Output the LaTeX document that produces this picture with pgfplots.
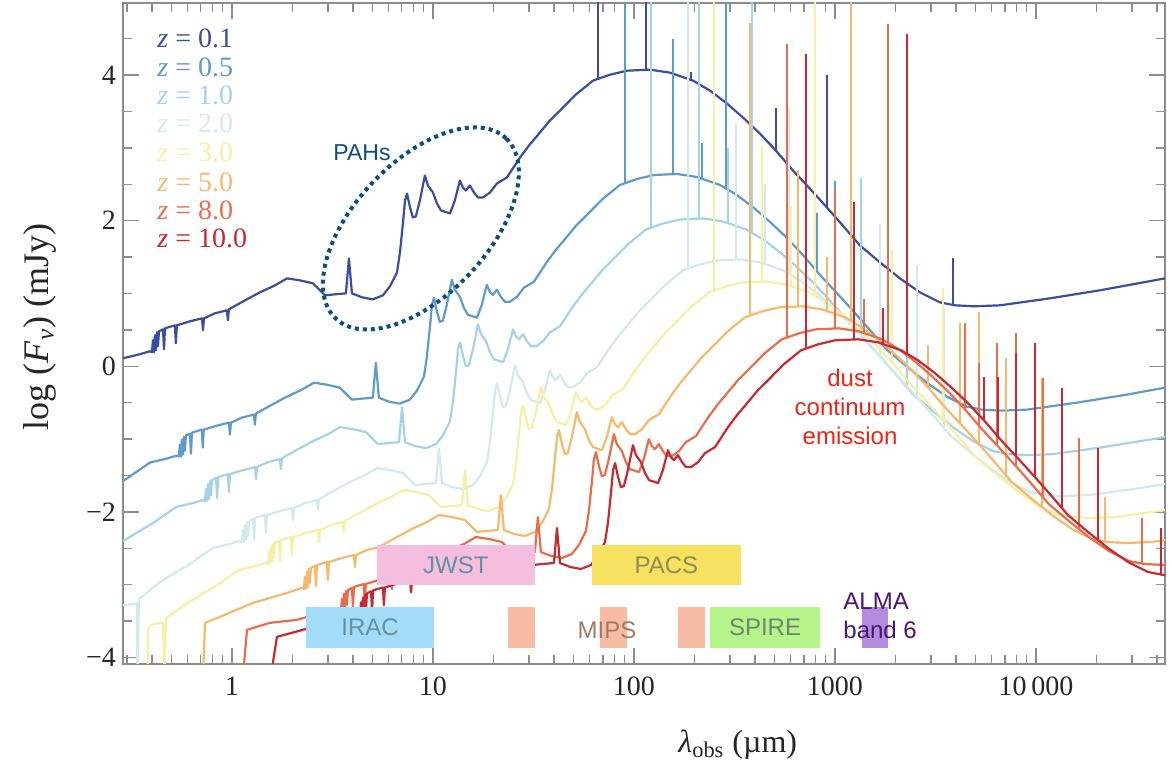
\documentclass[border=0pt]{standalone}
\usepackage{fontspec}
\setmainfont{Liberation Serif}
\newfontfamily\sansf{Liberation Sans}
\usepackage{pgfplots}
\pgfplotsset{compat=1.18}
\usetikzlibrary{shapes.geometric}
\definecolor{cA}{RGB}{58,78,160}
\definecolor{cB}{RGB}{95,155,200}
\definecolor{cC}{RGB}{165,210,232}
\definecolor{cD}{RGB}{212,233,236}
\definecolor{cE}{RGB}{246,240,165}
\definecolor{cF}{RGB}{246,185,108}
\definecolor{cG}{RGB}{232,110,75}
\definecolor{cH}{RGB}{200,40,50}
\definecolor{pahblue}{RGB}{12,78,125}
\definecolor{dustred}{RGB}{236,35,20}
\definecolor{jwstfill}{RGB}{246,190,222}
\definecolor{jwsttext}{RGB}{95,145,165}
\definecolor{pacsfill}{RGB}{246,225,96}
\definecolor{pacstext}{RGB}{145,138,82}
\definecolor{iracfill}{RGB}{163,220,248}
\definecolor{iractext}{RGB}{100,145,165}
\definecolor{mipsfill}{RGB}{248,188,165}
\definecolor{mipstext}{RGB}{165,120,100}
\definecolor{spirefill}{RGB}{182,245,140}
\definecolor{spiretext}{RGB}{110,135,100}
\definecolor{almafill}{RGB}{180,140,222}
\definecolor{almatext}{RGB}{75,20,110}
\begin{document}
\begin{tikzpicture}
\begin{axis}[
 scale only axis, width=521pt, height=330.5pt,
 xmin=-0.542, xmax=4.642, ymin=-4.09, ymax=4.99,
 axis line style={draw=black!45, line width=0.7pt},
 tick style={draw=black!45, line width=0.7pt},
 major tick length=8pt, minor tick length=4.5pt,
 xtick={0,1,2,3,4}, xticklabels={1,10,100,1000,10\,000},
 minor xtick={-0.523,-0.398,-0.301,-0.222,-0.155,-0.097,-0.046,
   0.301,0.477,0.602,0.699,0.778,0.845,0.903,0.954,
   1.301,1.477,1.602,1.699,1.778,1.845,1.903,1.954,
   2.301,2.477,2.602,2.699,2.778,2.845,2.903,2.954,
   3.301,3.477,3.602,3.699,3.778,3.845,3.903,3.954,
   4.301,4.477,4.602},
 ytick={-4,-2,0,2,4}, yticklabels={−4,−2,0,2,4},
 minor ytick={-3.5,-3,-2.5,-1.5,-1,-0.5,0.5,1,1.5,2.5,3,3.5,4.5},
 tick label style={font=\fontsize{14}{16}\selectfont, text=black!85},
 xticklabel style={yshift=-3pt},
 unbounded coords=jump,
 every axis plot/.append style={line width=1.1pt, line join=round},
 xlabel={\textit{λ}\textsubscript{obs} (µm)},
 ylabel={log (\textit{F}\textsubscript{\textit{ν}}) (mJy)},
 every axis x label/.style={at={(axis description cs:0.590,-0.1225)}, anchor=center, font=\fontsize{16}{19}\selectfont, text=black!85},
 every axis y label/.style={at={(axis description cs:-0.0797,0.51)}, anchor=center, rotate=90, font=\fontsize{18}{21}\selectfont, text=black!85},
]
\coordinate (SW) at (rel axis cs:0,0);
\coordinate (NE) at (rel axis cs:1,1);

% z = 0.1
\addplot[cA] coordinates {(-0.657,-0.110) (-0.542,0.110) (-0.458,0.165) (-0.408,0.206) (-0.398,0.192) (-0.393,0.357) (-0.388,0.192) (-0.383,0.425) (-0.378,0.219) (-0.373,0.466) (-0.368,0.274) (-0.363,0.480) (-0.343,0.508) (-0.338,0.233) (-0.333,0.521) (-0.284,0.562) (-0.279,0.316) (-0.274,0.562) (-0.209,0.617) (-0.149,0.658) (-0.144,0.494) (-0.139,0.658) (-0.085,0.727) (-0.025,0.768) (-0.020,0.631) (-0.015,0.782) (0.065,0.905) (0.139,1.015) (0.214,1.111) (0.274,1.207) (0.338,1.180) (0.403,1.139) (0.438,1.043) (0.463,0.974) (0.512,0.988) (0.567,1.001) (0.582,1.481) (0.597,1.001) (0.647,0.947) (0.701,0.919) (0.751,0.974) (0.786,1.097) (0.821,1.289) (0.836,1.564) (0.851,1.975) (0.861,2.277) (0.871,2.373) (0.886,2.181) (0.900,2.044) (0.915,2.058) (0.935,2.277) (0.960,2.620) (0.975,2.483) (1.000,2.387) (1.020,2.236) (1.040,2.140) (1.085,2.099) (1.109,2.277) (1.134,2.551) (1.149,2.455) (1.164,2.414) (1.184,2.483) (1.204,2.387) (1.224,2.318) (1.249,2.318) (1.284,2.387) (1.318,2.510) (1.368,2.593) (1.433,2.867) (1.480,3.040) (1.532,3.210) (1.580,3.370) (1.632,3.512) (1.710,3.730) (1.796,3.923) (1.881,4.005) (1.965,4.060) (2.080,4.074) (2.179,4.033) (2.294,3.923) (2.378,3.786) (2.463,3.608) (2.545,3.410) (2.627,3.196) (2.710,2.950) (2.791,2.689) (2.875,2.440) (2.960,2.181) (3.040,1.930) (3.124,1.660) (3.224,1.427) (3.323,1.207) (3.423,1.015) (3.522,0.878) (3.597,0.837) (3.697,0.823) (3.821,0.837) (4.070,0.933) (4.318,1.043) (4.642,1.207)};
\addplot[cA, line width=1pt] coordinates {(1.821,3.944) (1.821,5.6) (1.821,nan) (2.060,4.074) (2.060,5.6) (2.060,nan) (2.284,3.933) (2.284,4.047) (2.284,nan) (2.323,3.876) (2.323,5.6) (2.323,nan) (2.706,2.962) (2.706,3.553) (2.706,nan) (2.960,2.181) (2.960,4.005) (2.960,nan) (3.587,0.842) (3.587,1.481)};

% z = 0.5
\addplot[cB] coordinates {(-0.672,-1.790) (-0.523,-1.543) (-0.408,-1.323) (-0.324,-1.268) (-0.274,-1.227) (-0.264,-1.241) (-0.259,-1.076) (-0.254,-1.241) (-0.249,-1.008) (-0.244,-1.214) (-0.239,-0.967) (-0.234,-1.159) (-0.229,-0.953) (-0.209,-0.925) (-0.204,-1.200) (-0.199,-0.912) (-0.150,-0.871) (-0.145,-1.117) (-0.140,-0.871) (-0.075,-0.816) (-0.015,-0.775) (-0.010,-0.939) (-0.005,-0.775) (0.049,-0.706) (0.109,-0.665) (0.114,-0.802) (0.119,-0.651) (0.199,-0.528) (0.273,-0.418) (0.348,-0.322) (0.408,-0.226) (0.472,-0.253) (0.537,-0.294) (0.572,-0.390) (0.597,-0.459) (0.646,-0.445) (0.701,-0.432) (0.716,0.048) (0.731,-0.432) (0.781,-0.486) (0.835,-0.514) (0.885,-0.459) (0.920,-0.336) (0.955,-0.144) (0.970,0.131) (0.985,0.542) (0.995,0.844) (1.005,0.940) (1.020,0.748) (1.034,0.611) (1.049,0.625) (1.069,0.844) (1.094,1.187) (1.109,1.050) (1.134,0.954) (1.154,0.803) (1.174,0.707) (1.219,0.666) (1.243,0.844) (1.268,1.118) (1.283,1.022) (1.298,0.981) (1.318,1.050) (1.338,0.954) (1.358,0.885) (1.383,0.885) (1.418,0.954) (1.452,1.077) (1.502,1.160) (1.567,1.434) (1.614,1.607) (1.666,1.777) (1.714,1.937) (1.766,2.079) (1.844,2.297) (1.930,2.490) (2.015,2.572) (2.099,2.627) (2.214,2.641) (2.313,2.600) (2.428,2.490) (2.512,2.353) (2.597,2.175) (2.679,1.977) (2.761,1.763) (2.844,1.517) (2.925,1.256) (3.009,1.007) (3.094,0.748) (3.174,0.497) (3.258,0.227) (3.358,-0.006) (3.457,-0.226) (3.557,-0.418) (3.656,-0.555) (3.731,-0.596) (3.831,-0.610) (3.955,-0.596) (4.204,-0.500) (4.452,-0.390) (4.776,-0.226)};
\addplot[cB, line width=1pt] coordinates {(1.955,2.511) (1.955,5.6) (1.955,nan) (2.194,2.641) (2.194,4.50) (2.194,nan) (2.338,2.576) (2.338,3.06) (2.338,nan) (2.457,2.443) (2.457,5.6) (2.457,nan) (2.910,1.304) (2.910,2.11) (2.910,nan) (3.000,1.034) (3.000,2.55)};

% z = 1.0
\addplot[cC] coordinates {(-0.542,-2.401) (-0.393,-2.154) (-0.278,-1.934) (-0.194,-1.879) (-0.144,-1.838) (-0.134,-1.852) (-0.129,-1.687) (-0.124,-1.852) (-0.119,-1.619) (-0.114,-1.825) (-0.109,-1.578) (-0.104,-1.770) (-0.099,-1.564) (-0.079,-1.536) (-0.074,-1.811) (-0.069,-1.523) (-0.020,-1.482) (-0.015,-1.728) (-0.010,-1.482) (0.055,-1.427) (0.115,-1.386) (0.120,-1.550) (0.125,-1.386) (0.179,-1.317) (0.239,-1.276) (0.244,-1.413) (0.249,-1.262) (0.329,-1.139) (0.403,-1.029) (0.478,-0.933) (0.538,-0.837) (0.602,-0.864) (0.667,-0.905) (0.702,-1.001) (0.727,-1.070) (0.776,-1.056) (0.831,-1.043) (0.846,-0.563) (0.861,-1.043) (0.911,-1.097) (0.965,-1.125) (1.015,-1.070) (1.050,-0.947) (1.085,-0.755) (1.100,-0.480) (1.115,-0.069) (1.125,0.233) (1.135,0.329) (1.150,0.137) (1.164,0.000) (1.179,0.014) (1.199,0.233) (1.224,0.576) (1.239,0.439) (1.264,0.343) (1.284,0.192) (1.304,0.096) (1.349,0.055) (1.373,0.233) (1.398,0.507) (1.413,0.411) (1.428,0.370) (1.448,0.439) (1.468,0.343) (1.488,0.274) (1.513,0.274) (1.548,0.343) (1.582,0.466) (1.632,0.549) (1.697,0.823) (1.744,0.996) (1.796,1.166) (1.844,1.326) (1.896,1.468) (1.974,1.686) (2.060,1.879) (2.145,1.961) (2.229,2.016) (2.344,2.030) (2.443,1.989) (2.558,1.879) (2.642,1.742) (2.727,1.564) (2.809,1.366) (2.891,1.152) (2.974,0.906) (3.055,0.645) (3.139,0.396) (3.224,0.137) (3.304,-0.114) (3.388,-0.384) (3.488,-0.617) (3.587,-0.837) (3.687,-1.029) (3.786,-1.166) (3.861,-1.207) (3.961,-1.221) (4.085,-1.207) (4.334,-1.111) (4.582,-1.001) (4.906,-0.837)};
\addplot[cC, line width=1pt] coordinates {(2.085,1.900) (2.085,5.6) (2.085,nan) (2.324,2.030) (2.324,5.6) (2.324,nan) (2.468,1.965) (2.468,3.0) (2.468,nan) (2.587,1.832) (2.587,5.6) (2.587,nan) (3.130,0.423) (3.130,2.58) (3.130,nan) (3.224,0.137) (3.224,1.6) (3.224,nan) (3.359,-0.291) (3.359,1.0)};

% z = 2.0
\addplot[cD] coordinates {(-0.600,-3.30) (-0.473,-3.26) (-0.470,-4.40) (-0.463,-3.20) (-0.358,-2.963) (-0.209,-2.716) (-0.094,-2.496) (-0.010,-2.441) (0.040,-2.400) (0.050,-2.414) (0.055,-2.249) (0.060,-2.414) (0.065,-2.181) (0.070,-2.387) (0.075,-2.140) (0.080,-2.332) (0.085,-2.126) (0.105,-2.098) (0.110,-2.373) (0.115,-2.085) (0.164,-2.044) (0.169,-2.290) (0.174,-2.044) (0.239,-1.989) (0.299,-1.948) (0.304,-2.112) (0.309,-1.948) (0.363,-1.879) (0.423,-1.838) (0.428,-1.975) (0.433,-1.824) (0.513,-1.701) (0.587,-1.591) (0.662,-1.495) (0.722,-1.399) (0.786,-1.426) (0.851,-1.467) (0.886,-1.563) (0.911,-1.632) (0.960,-1.618) (1.015,-1.605) (1.030,-1.125) (1.045,-1.605) (1.095,-1.659) (1.149,-1.687) (1.199,-1.632) (1.234,-1.509) (1.269,-1.317) (1.284,-1.042) (1.299,-0.631) (1.309,-0.329) (1.319,-0.233) (1.334,-0.425) (1.348,-0.562) (1.363,-0.548) (1.383,-0.329) (1.408,0.014) (1.423,-0.123) (1.448,-0.219) (1.468,-0.370) (1.488,-0.466) (1.533,-0.507) (1.557,-0.329) (1.582,-0.055) (1.597,-0.151) (1.612,-0.192) (1.632,-0.123) (1.652,-0.219) (1.672,-0.288) (1.697,-0.288) (1.732,-0.219) (1.766,-0.096) (1.816,-0.013) (1.881,0.261) (1.928,0.434) (1.980,0.604) (2.028,0.764) (2.080,0.906) (2.158,1.124) (2.244,1.317) (2.329,1.399) (2.413,1.454) (2.528,1.468) (2.627,1.427) (2.742,1.317) (2.826,1.180) (2.911,1.002) (2.993,0.804) (3.075,0.590) (3.158,0.344) (3.239,0.083) (3.323,-0.166) (3.408,-0.425) (3.488,-0.676) (3.572,-0.946) (3.672,-1.179) (3.771,-1.399) (3.871,-1.591) (3.970,-1.728) (4.045,-1.769) (4.145,-1.783) (4.269,-1.769) (4.518,-1.673) (4.766,-1.563)};
\addplot[cD, line width=1pt] coordinates {(2.269,1.338) (2.269,5.6) (2.269,nan) (2.508,1.468) (2.508,3.33) (2.508,nan) (2.652,1.403) (2.652,2.5) (2.652,nan) (2.771,1.270) (2.771,3.55) (2.771,nan) (3.224,0.131) (3.224,1.96) (3.224,nan) (3.408,-0.425) (3.408,1.39) (3.408,nan) (3.543,-0.853) (3.543,0.8)};

% z = 3.0
\addplot[cE] coordinates {(-0.420,-4.40) (-0.418,-3.60) (-0.398,-3.55) (-0.343,-3.52) (-0.336,-4.40) (-0.328,-3.46) (-0.229,-3.265) (-0.080,-3.018) (0.035,-2.798) (0.119,-2.743) (0.169,-2.702) (0.179,-2.716) (0.184,-2.551) (0.189,-2.716) (0.194,-2.483) (0.199,-2.689) (0.204,-2.442) (0.209,-2.634) (0.214,-2.428) (0.234,-2.400) (0.239,-2.675) (0.244,-2.387) (0.293,-2.346) (0.298,-2.592) (0.303,-2.346) (0.368,-2.291) (0.428,-2.250) (0.433,-2.414) (0.438,-2.250) (0.492,-2.181) (0.552,-2.140) (0.557,-2.277) (0.562,-2.126) (0.642,-2.003) (0.716,-1.893) (0.791,-1.797) (0.851,-1.701) (0.915,-1.728) (0.980,-1.769) (1.015,-1.865) (1.040,-1.934) (1.089,-1.920) (1.144,-1.907) (1.159,-1.427) (1.174,-1.907) (1.224,-1.961) (1.278,-1.989) (1.328,-1.934) (1.363,-1.811) (1.398,-1.619) (1.413,-1.344) (1.428,-0.933) (1.438,-0.631) (1.448,-0.535) (1.463,-0.727) (1.477,-0.864) (1.492,-0.850) (1.512,-0.631) (1.537,-0.288) (1.552,-0.425) (1.577,-0.521) (1.597,-0.672) (1.617,-0.768) (1.662,-0.809) (1.686,-0.631) (1.711,-0.357) (1.726,-0.453) (1.741,-0.494) (1.761,-0.425) (1.781,-0.521) (1.801,-0.590) (1.826,-0.590) (1.861,-0.521) (1.895,-0.398) (1.945,-0.315) (2.010,-0.041) (2.057,0.132) (2.109,0.302) (2.157,0.462) (2.209,0.604) (2.287,0.822) (2.373,1.015) (2.458,1.097) (2.542,1.152) (2.657,1.166) (2.756,1.125) (2.871,1.015) (2.955,0.878) (3.040,0.700) (3.122,0.502) (3.204,0.288) (3.287,0.042) (3.368,-0.219) (3.452,-0.468) (3.537,-0.727) (3.617,-0.978) (3.701,-1.248) (3.801,-1.481) (3.900,-1.701) (4.000,-1.893) (4.099,-2.030) (4.174,-2.071) (4.274,-2.085) (4.398,-2.071) (4.647,-1.975)};
\addplot[cE, line width=1pt] coordinates {(2.398,1.036) (2.398,5.6) (2.398,nan) (2.637,1.166) (2.637,3.03) (2.637,nan) (2.781,1.101) (2.781,2.2) (2.781,nan) (2.900,0.968) (2.900,5.6) (2.900,nan) (3.283,0.054) (3.283,1.6) (3.283,nan) (3.537,-0.727) (3.537,1.08) (3.537,nan) (3.851,-1.592) (3.851,0.12)};

% z = 5.0
\addplot[cF] coordinates {(-0.146,-4.40) (-0.134,-3.525) (-0.060,-3.443) (0.104,-3.251) (0.274,-3.114) (0.348,-3.045) (0.358,-3.059) (0.363,-2.894) (0.368,-3.059) (0.373,-2.826) (0.378,-3.032) (0.383,-2.785) (0.388,-2.977) (0.393,-2.771) (0.413,-2.743) (0.418,-3.018) (0.423,-2.730) (0.472,-2.689) (0.477,-2.935) (0.482,-2.689) (0.547,-2.634) (0.607,-2.593) (0.612,-2.757) (0.617,-2.593) (0.671,-2.524) (0.731,-2.483) (0.736,-2.620) (0.741,-2.469) (0.821,-2.346) (0.895,-2.236) (0.970,-2.140) (1.030,-2.044) (1.094,-2.071) (1.159,-2.112) (1.194,-2.208) (1.219,-2.277) (1.268,-2.263) (1.323,-2.250) (1.338,-1.770) (1.353,-2.250) (1.403,-2.304) (1.457,-2.332) (1.507,-2.277) (1.542,-2.154) (1.577,-1.962) (1.592,-1.687) (1.607,-1.276) (1.617,-0.974) (1.627,-0.878) (1.642,-1.070) (1.656,-1.207) (1.671,-1.193) (1.691,-0.974) (1.716,-0.631) (1.731,-0.768) (1.756,-0.864) (1.776,-1.015) (1.796,-1.111) (1.841,-1.152) (1.865,-0.974) (1.890,-0.700) (1.905,-0.796) (1.920,-0.837) (1.940,-0.768) (1.960,-0.864) (1.980,-0.933) (2.005,-0.933) (2.040,-0.864) (2.074,-0.741) (2.124,-0.658) (2.189,-0.384) (2.236,-0.211) (2.288,-0.041) (2.336,0.119) (2.388,0.261) (2.466,0.479) (2.552,0.672) (2.637,0.754) (2.721,0.809) (2.836,0.823) (2.935,0.782) (3.050,0.672) (3.134,0.535) (3.219,0.357) (3.301,0.159) (3.383,-0.055) (3.466,-0.301) (3.547,-0.562) (3.631,-0.811) (3.716,-1.070) (3.796,-1.321) (3.880,-1.591) (3.980,-1.824) (4.079,-2.044) (4.179,-2.236) (4.278,-2.373) (4.353,-2.414) (4.453,-2.428) (4.577,-2.414) (4.826,-2.318)};
\addplot[cF, line width=1pt] coordinates {(2.577,0.693) (2.577,4.72) (2.577,nan) (2.816,0.823) (2.816,2.69) (2.816,nan) (2.960,0.758) (2.960,1.5) (2.960,nan) (3.079,0.625) (3.079,5.6) (3.079,nan) (3.462,-0.289) (3.462,0.29) (3.462,nan) (3.622,-0.784) (3.622,0.59) (3.622,nan) (3.716,-1.070) (3.716,0.74) (3.716,nan) (3.851,-1.498) (3.851,0.12) (3.851,nan) (4.030,-1.935) (4.030,-0.16) (4.030,nan) (4.343,-2.409) (4.343,-1.80)};

% z = 8.0
\addplot[cG] coordinates {(0.050,-4.40) (0.075,-3.621) (0.189,-3.525) (0.323,-3.484) (0.373,-3.443) (0.532,-3.347) (0.542,-3.361) (0.547,-3.196) (0.552,-3.361) (0.557,-3.128) (0.562,-3.334) (0.567,-3.087) (0.572,-3.279) (0.577,-3.073) (0.597,-3.045) (0.602,-3.320) (0.607,-3.032) (0.656,-2.991) (0.661,-3.237) (0.666,-2.991) (0.731,-2.936) (0.791,-2.895) (0.796,-3.059) (0.801,-2.895) (0.855,-2.826) (0.915,-2.785) (0.920,-2.922) (0.925,-2.771) (1.005,-2.648) (1.079,-2.538) (1.154,-2.442) (1.214,-2.346) (1.278,-2.373) (1.343,-2.414) (1.378,-2.510) (1.403,-2.579) (1.452,-2.565) (1.507,-2.552) (1.522,-2.072) (1.537,-2.552) (1.587,-2.606) (1.641,-2.634) (1.691,-2.579) (1.726,-2.456) (1.761,-2.264) (1.776,-1.989) (1.791,-1.578) (1.801,-1.276) (1.811,-1.180) (1.826,-1.372) (1.840,-1.509) (1.855,-1.495) (1.875,-1.276) (1.900,-0.933) (1.915,-1.070) (1.940,-1.166) (1.960,-1.317) (1.980,-1.413) (2.025,-1.454) (2.049,-1.276) (2.074,-1.002) (2.089,-1.098) (2.104,-1.139) (2.124,-1.070) (2.144,-1.166) (2.164,-1.235) (2.189,-1.235) (2.224,-1.166) (2.258,-1.043) (2.308,-0.960) (2.373,-0.686) (2.420,-0.513) (2.472,-0.343) (2.520,-0.183) (2.572,-0.041) (2.650,0.177) (2.736,0.370) (2.821,0.452) (2.905,0.507) (3.020,0.521) (3.119,0.480) (3.234,0.370) (3.318,0.233) (3.403,0.055) (3.485,-0.143) (3.567,-0.357) (3.650,-0.603) (3.731,-0.864) (3.815,-1.113) (3.900,-1.372) (3.980,-1.623) (4.064,-1.893) (4.164,-2.126) (4.263,-2.346) (4.363,-2.538) (4.462,-2.675) (4.537,-2.716) (4.637,-2.730) (4.761,-2.716)};
\addplot[cG, line width=1pt] coordinates {(2.761,0.391) (2.761,4.43) (2.761,nan) (3.000,0.521) (3.000,2.41) (3.000,nan) (3.144,0.456) (3.144,0.93) (3.144,nan) (3.263,0.323) (3.263,4.70) (3.263,nan) (3.646,-0.591) (3.646,0.59) (3.646,nan) (3.716,-0.816) (3.716,0.04) (3.716,nan) (3.806,-1.086) (3.806,0.32) (3.806,nan) (3.900,-1.372) (3.900,0.45) (3.900,nan) (4.035,-1.800) (4.035,-0.16) (4.035,nan) (4.214,-2.237) (4.214,-0.99) (4.214,nan) (4.527,-2.711) (4.527,-2.09)};

% z = 10.0
\addplot[cH] coordinates {(0.185,-4.40) (0.224,-3.717) (0.353,-3.621) (0.502,-3.484) (0.627,-3.394) (0.637,-3.408) (0.642,-3.243) (0.647,-3.408) (0.652,-3.175) (0.657,-3.381) (0.662,-3.134) (0.667,-3.326) (0.672,-3.120) (0.692,-3.092) (0.697,-3.367) (0.702,-3.079) (0.751,-3.038) (0.756,-3.284) (0.761,-3.038) (0.826,-2.983) (0.886,-2.942) (0.891,-3.106) (0.896,-2.942) (0.950,-2.873) (1.010,-2.832) (1.015,-2.969) (1.020,-2.818) (1.100,-2.715) (1.174,-2.625) (1.249,-2.549) (1.309,-2.497) (1.373,-2.524) (1.438,-2.565) (1.473,-2.661) (1.498,-2.730) (1.547,-2.716) (1.602,-2.703) (1.617,-2.223) (1.632,-2.703) (1.682,-2.757) (1.736,-2.785) (1.786,-2.730) (1.821,-2.607) (1.856,-2.415) (1.871,-2.140) (1.886,-1.729) (1.896,-1.427) (1.906,-1.331) (1.921,-1.523) (1.935,-1.660) (1.950,-1.646) (1.970,-1.427) (1.995,-1.084) (2.010,-1.221) (2.035,-1.317) (2.055,-1.468) (2.075,-1.564) (2.120,-1.605) (2.144,-1.427) (2.169,-1.153) (2.184,-1.249) (2.199,-1.290) (2.219,-1.221) (2.239,-1.317) (2.259,-1.386) (2.284,-1.386) (2.319,-1.317) (2.353,-1.194) (2.403,-1.111) (2.468,-0.837) (2.515,-0.664) (2.567,-0.494) (2.615,-0.334) (2.667,-0.192) (2.745,0.026) (2.831,0.219) (2.916,0.301) (3.000,0.356) (3.115,0.370) (3.214,0.329) (3.329,0.219) (3.413,0.082) (3.498,-0.096) (3.580,-0.294) (3.662,-0.508) (3.745,-0.754) (3.826,-1.015) (3.910,-1.264) (3.995,-1.523) (4.075,-1.774) (4.159,-2.044) (4.259,-2.277) (4.358,-2.497) (4.458,-2.689) (4.557,-2.826) (4.632,-2.867) (4.732,-2.881)};
\addplot[cH, line width=1pt] coordinates {(2.856,0.240) (2.856,4.29) (2.856,nan) (3.095,0.370) (3.095,2.25) (3.095,nan) (3.239,0.305) (3.239,0.80) (3.239,nan) (3.358,0.172) (3.358,4.57) (3.358,nan) (3.741,-0.742) (3.741,-0.15) (3.741,nan) (3.811,-0.967) (3.811,-0.15) (3.811,nan) (3.901,-1.237) (3.901,0.18) (3.901,nan) (3.995,-1.523) (3.995,0.32) (3.995,nan) (4.130,-1.951) (4.130,-0.30) (4.130,nan) (4.309,-2.388) (4.309,-1.12) (4.309,nan) (4.622,-2.862) (4.622,-2.22)};

% instrument bands
\fill[jwstfill] (axis cs:0.721,-2.455) rectangle (axis cs:1.507,-3.004);
\fill[pacsfill] (axis cs:1.791,-2.455) rectangle (axis cs:2.532,-3.004);
\fill[iracfill] (axis cs:0.368,-3.306) rectangle (axis cs:1.005,-3.868);
\fill[mipsfill] (axis cs:1.373,-3.306) rectangle (axis cs:1.507,-3.868);
\fill[mipsfill] (axis cs:1.831,-3.306) rectangle (axis cs:1.965,-3.868);
\fill[mipsfill] (axis cs:2.219,-3.306) rectangle (axis cs:2.353,-3.868);
\fill[spirefill] (axis cs:2.378,-3.306) rectangle (axis cs:2.925,-3.868);
\fill[almafill] (axis cs:3.134,-3.306) rectangle (axis cs:3.264,-3.868);
\begin{scope}[every node/.style={font=\sansf\fontsize{12}{14.5}\selectfont, inner sep=0pt}]
\node[text=jwsttext] at (axis cs:1.114,-2.73) {JWST};
\node[text=pacstext] at (axis cs:2.161,-2.73) {PACS};
\node[text=iractext] at (axis cs:0.687,-3.587) {IRAC};
\node[text=mipstext] at (axis cs:1.866,-3.62) {MIPS};
\node[text=spiretext] at (axis cs:2.652,-3.587) {SPIRE};
\node[text=almatext, align=left, anchor=west] at (axis cs:3.040,-3.429) {ALMA\\band 6};
\node[text=dustred, align=center] at (axis cs:3.075,-0.562) {dust\\continuum\\emission};
\node[text=pahblue, font=\sansf\fontsize{11.5}{14}\selectfont] at (axis cs:0.647,2.935) {PAHs};
\end{scope}
\node[draw=pahblue, ellipse, line width=2pt, dash pattern=on 2pt off 2pt, minimum width=124pt, minimum height=66.6pt, inner sep=0pt, rotate=46.6] at (axis cs:0.940,1.893) {};

% redshift labels
\begin{scope}[every node/.style={anchor=west, inner sep=0pt, font=\fontsize{14}{16}\selectfont}]
\node[text=cA] at (axis cs:-0.373,4.499) {\textit{z} = 0.1};
\node[text=cB] at (axis cs:-0.373,4.101) {\textit{z} = 0.5};
\node[text=cC] at (axis cs:-0.373,3.717) {\textit{z} = 1.0};
\node[text=cD] at (axis cs:-0.373,3.333) {\textit{z} = 2.0};
\node[text=cE] at (axis cs:-0.373,2.936) {\textit{z} = 3.0};
\node[text=cF] at (axis cs:-0.373,2.524) {\textit{z} = 5.0};
\node[text=cG] at (axis cs:-0.373,2.140) {\textit{z} = 8.0};
\node[text=cH] at (axis cs:-0.373,1.756) {\textit{z} = 10.0};
\end{scope}
\end{axis}
\pgfresetboundingbox
\path[use as bounding box] ([xshift=-61.5pt,yshift=-54pt]SW) rectangle ([xshift=3.5pt,yshift=1.5pt]NE);
\end{tikzpicture}
\end{document}
